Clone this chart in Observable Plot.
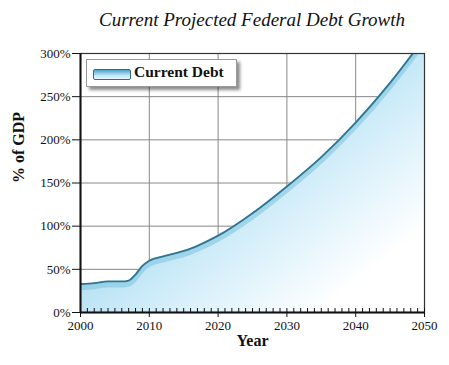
<!DOCTYPE html>
<html>
<head>
<meta charset="utf-8">
<script src="https://cdn.jsdelivr.net/npm/d3@7"></script>
<script src="https://cdn.jsdelivr.net/npm/@observablehq/plot@0.6"></script>
<style>
  body { margin: 0; background: white; }
  #wrap { position: relative; width: 449px; height: 365px; background: white; font-family: "Liberation Serif", serif; }
  #title { position: absolute; left: 80px; top: 9px; width: 344px; text-align: center; font-style: italic; font-size: 19px; color: #111; white-space: nowrap; }
  #chart { position: absolute; left: 0; top: 42px; }
  #legend { position: absolute; left: 86px; top: 59px; width: 151px; height: 28px; background: white; border: 1px solid #999; box-shadow: 3px 3px 3px rgba(0,0,0,0.45); box-sizing: border-box; }
  #swatch { position: absolute; left: 6px; top: 9px; width: 36px; height: 9px; border: 1px solid #2f6f86; border-radius: 2px; background: linear-gradient(to bottom, #4aa3c6, #bfe6f5 60%, #e6f6fc); }
  #legtext { position: absolute; left: 47px; top: 3px; font-weight: bold; font-size: 15.5px; color: #111; white-space: nowrap; }
</style>
</head>
<body>
<div id="wrap">
  <div id="title">Current Projected Federal Debt Growth</div>
  <div id="chart"></div>
  <div id="legend"><div id="swatch"></div><div id="legtext">Current Debt</div></div>
</div>
<script>
const years   = [2000, 2002, 2004, 2006, 2007, 2008, 2009, 2010, 2012, 2014, 2016, 2018, 2020, 2025, 2030, 2035, 2040, 2045, 2050];
const debtPct = [33,   34,   36,   36,   37,   44,   54,   60,   65,   69,   74,   81,   89,  115,  146,  180,  220,  266,  318];
const xTicks = [2000, 2010, 2020, 2030, 2040, 2050];
const yTicks = [0, 50, 100, 150, 200, 250, 300];
const seriesName = "Current Debt";
const xLabel = "Year";
const yLabel = "% of GDP";

const data = years.map((y, i) => ({year: y, debt: debtPct[i]}));
const minorYears = d3.range(2000, 2051);
const serif = "'Liberation Serif', serif";

const plot = Plot.plot({
  width: 449,
  height: 323,
  marginTop: 11,
  marginBottom: 53,
  marginLeft: 80,
  marginRight: 25,
  style: {fontFamily: serif, fontSize: "13px", color: "#111", background: "transparent"},
  x: {domain: [2000, 2050], label: null},
  y: {domain: [0, 300], label: null},
  marks: [
    Plot.frame({fill: "white", stroke: "none"}),
    Plot.gridX(xTicks, {stroke: "#888", strokeOpacity: 1, strokeWidth: 1}),
    Plot.gridY(yTicks, {stroke: "#888", strokeOpacity: 1, strokeWidth: 1}),
    Plot.areaY(data, {x: "year", y: "debt", fill: "url(#debtGrad)", curve: "monotone-x", clip: true}),
    Plot.lineY(data, {x: "year", y: "debt", stroke: "#7cc3dd", strokeWidth: 6, strokeOpacity: 0.55, dy: 3, curve: "monotone-x", clip: true}),
    Plot.lineY(data, {x: "year", y: "debt", stroke: "#2f7490", strokeWidth: 1.8, curve: "monotone-x", clip: true}),
    Plot.frame({stroke: "#333", strokeWidth: 1.2}),
    Plot.ruleX([2000], {stroke: "#111", strokeWidth: 2}),
    Plot.ruleY([0], {stroke: "#111", strokeWidth: 2.2}),
    Plot.axisY(yTicks, {tickFormat: d => d + "%", tickSize: 8, tickPadding: 2, stroke: "#111", fill: "#111", label: null}),
    Plot.axisX(xTicks, {tickFormat: d => String(d), tickSize: 5, tickPadding: 3, stroke: "#111", fill: "#111", label: null}),
    Plot.axisX(minorYears, {tickFormat: () => "", tickSize: -4, stroke: "#111", label: null}),
    Plot.text([xLabel], {frameAnchor: "bottom", dy: 33, fontWeight: "bold", fontSize: 16, fill: "#111"}),
    Plot.text([yLabel], {frameAnchor: "left", dx: -62, rotate: -90, fontWeight: "bold", fontSize: 16, fill: "#111"})
  ]
});

const svg = d3.select(plot);
const defs = svg.insert("defs", ":first-child");
const g = defs.append("linearGradient").attr("id", "debtGrad")
  .attr("x1", "0").attr("y1", "0").attr("x2", "1").attr("y2", "1");
g.append("stop").attr("offset", "0").attr("stop-color", "#6fc0e0");
g.append("stop").attr("offset", "0.45").attr("stop-color", "#b6e2f4");
g.append("stop").attr("offset", "0.62").attr("stop-color", "#d6effa");
g.append("stop").attr("offset", "0.85").attr("stop-color", "#ffffff");
svg.select("g[aria-label=frame]").style("filter", "drop-shadow(3px 2px 2px rgba(0,0,0,0.45))");
svg.selectAll("text").style("font-family", serif);
svg.selectAll("g[aria-label$='tick label'] text").style("font-size", "13px");

document.getElementById("chart").appendChild(plot);
</script>
</body>
</html>
